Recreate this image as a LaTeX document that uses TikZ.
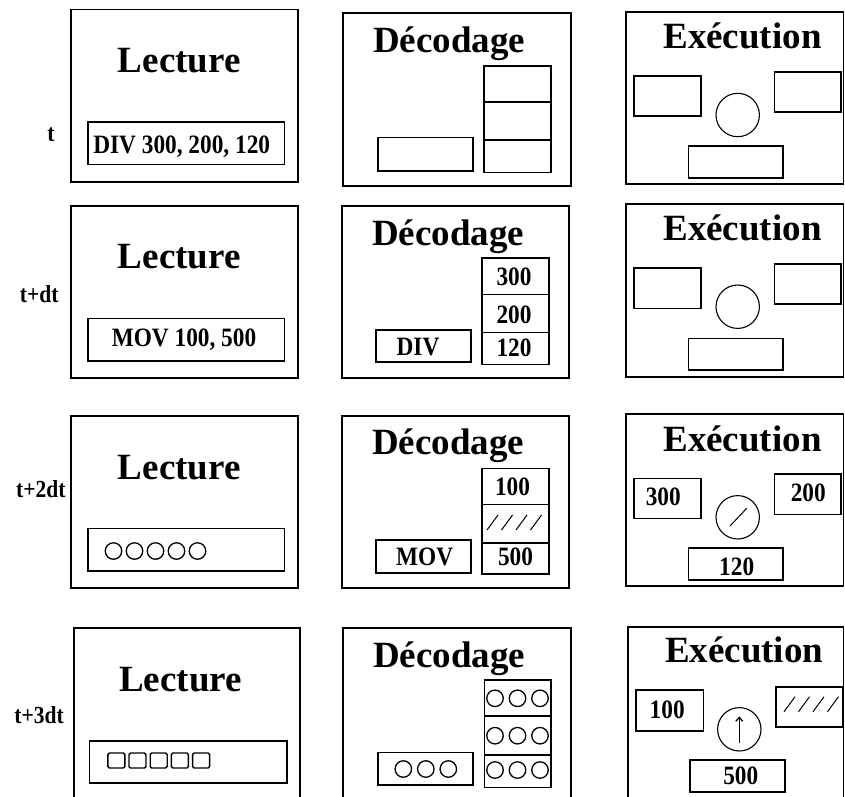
\documentclass[tikz,border=0pt]{standalone}
\usepackage{fontspec}
\usepackage{graphicx}
\setmainfont{Liberation Serif}
\usetikzlibrary{arrows.meta}
\newcommand\mytitlefont{\fontsize{37}{40}\selectfont\bfseries}
\newcommand\myvalfont{\fontsize{26.5}{28}\selectfont\bfseries}
\newcommand\mylblfont{\fontsize{24.5}{26}\selectfont\bfseries}
\newcommand\V[1]{\scalebox{0.88}[1]{#1}}
\tikzset{
  frame/.style={draw, line width=1.8pt},
  reg/.style={draw, line width=1.6pt},
  title/.style={anchor=base, inner sep=0pt, font=\mytitlefont},
  val/.style={anchor=base, inner sep=0pt, font=\myvalfont},
  lbl/.style={anchor=base, inner sep=0pt, font=\mylblfont},
  alu/.style={draw, circle, line width=1.1pt, minimum size=43.4pt, inner sep=0pt},
  dot/.style={draw, circle, line width=1.3pt, minimum size=16.5pt, inner sep=0pt},
  sq/.style={draw, line width=1.4pt, rounded corners=1.5pt},
  hatch/.style={line width=1pt}
}
\begin{document}
\begin{tikzpicture}[x=1pt,y=-1pt]
\useasboundingbox (0,0) rectangle (845,796);

% ---------------- row labels
\node[lbl] (l1) at (51,141.7) {\V{t}};
\node[lbl] (l2) at (39.2,302.3) {\V{t+dt}};
\node[lbl] (l3) at (40.8,497.3) {\V{t+2dt}};
\node[lbl] (l4) at (39.2,723.3) {\V{t+3dt}};

% ================= ROW 1 =================
\draw[frame] (71,9.5) rectangle (298.3,181.7);
\node[title] (lec1) at (179.2,72.7) {Lecture};
\draw[reg] (87.7,121.7) rectangle (284.3,164.3);
\node[val] (ins1) at (181.7,153.3) {\V{DIV 300, 200, 120}};

\draw[frame] (343.3,13.3) rectangle (570.7,186);
\node[title] (dec1) at (449.2,52.7) {Décodage};
\draw[reg] (484,65.7) rectangle (550.7,101.7);
\draw[reg] (484,101.7) rectangle (550.7,140);
\draw[reg] (484,140) rectangle (550.7,172.3);
\draw[reg] (377.7,137.3) rectangle (472.7,170.7);

\draw[frame] (626,11.7) rectangle (843.5,184);
\node[title] (exe1) at (742.5,48.3) {Exécution};
\draw[reg] (634,75.7) rectangle (701,116);
\draw[reg] (774.3,71.7) rectangle (841,112);
\draw[reg] (688.3,145.7) rectangle (782.7,177.7);
\node[alu] (alu1) at (737.7,115) {};

% ================= ROW 2 =================
\draw[frame] (71,206) rectangle (298.3,377.7);
\node[title] (lec2) at (179.2,268.3) {Lecture};
\draw[reg] (87.7,318.3) rectangle (284.3,360.7);
\node[val] (ins2) at (184,346.7) {\V{MOV 100, 500}};

\draw[frame] (341.7,206) rectangle (568.7,378.3);
\node[title] (dec2) at (448.3,245) {Décodage};
\draw[reg] (481.7,257.7) rectangle (548.7,294.3);
\draw[reg] (481.7,294.3) rectangle (548.7,332.3);
\draw[reg] (481.7,332.3) rectangle (548.7,364.3);
\node[val] (r21) at (514,285) {\V{300}};
\node[val] (r22) at (514,323.3) {\V{200}};
\node[val] (r23) at (514,356.7) {\V{120}};
\draw[reg] (376,330) rectangle (470.7,361.7);
\node[val] (op2) at (418,355) {\V{DIV}};

\draw[frame] (626,204.3) rectangle (843.5,376.7);
\node[title] (exe2) at (742.5,240) {Exécution};
\draw[reg] (634,267.7) rectangle (701,308.3);
\draw[reg] (774.3,264) rectangle (841,304);
\draw[reg] (688.3,338.3) rectangle (782.7,370);
\node[alu] (alu2) at (737.7,306.7) {};

% ================= ROW 3 =================
\draw[frame] (71,416) rectangle (298.3,588.3);
\node[title] (lec3) at (179.2,479.3) {Lecture};
\draw[reg] (87.7,528.3) rectangle (284.3,570.7);
\foreach \i in {0,...,4} {
  \node[dot] (c3\i) at (113.5+21*\i,551) {};
}

\draw[frame] (341.7,415.7) rectangle (568.7,588.3);
\node[title] (dec3) at (448.3,454.3) {Décodage};
\draw[reg] (481.7,468.3) rectangle (548.7,504.3);
\draw[reg] (481.7,504.3) rectangle (548.7,542.7);
\draw[reg] (481.7,542.7) rectangle (548.7,574);
\node[val] (r31) at (512.5,495) {\V{100}};
\foreach \i in {0,...,3} {
  \draw[hatch] (487+14.5*\i,530) -- (498+14.5*\i,515);
}
\node[val] (r33) at (515.5,565) {\V{500}};
\draw[reg] (376,540) rectangle (470.7,572.7);
\node[val] (op3) at (424.7,565.7) {\V{MOV}};

\draw[frame] (626,414) rectangle (843.5,586);
\node[title] (exe3) at (742.5,451) {Exécution};
\draw[reg] (634,478.3) rectangle (701,518.3);
\node[val] (a3) at (663.3,505) {\V{300}};
\draw[reg] (774.3,474) rectangle (841,514.3);
\node[val] (b3) at (808.3,501.7) {\V{200}};
\draw[reg] (688.3,547.7) rectangle (782.7,580);
\node[val] (o3) at (736.7,575) {\V{120}};
\node[alu] (alu3) at (737.7,517.3) {};
\draw[hatch] ([xshift=-7.7pt,yshift=-8.7pt]alu3.center) -- ([xshift=9pt,yshift=9pt]alu3.center);

% ================= ROW 4 =================
\draw[frame] (74,797) -- (74,628.3) -- (300,628.3) -- (300,797);
\node[title] (lec4) at (180.5,691) {Lecture};
\draw[reg] (89.3,740.7) rectangle (286.7,782.7);
\foreach \i in {0,...,4} {
  \draw[sq] (107.8+21.2*\i,753) rectangle (124.8+21.2*\i,768);
}

\draw[frame] (343.3,797) -- (343.3,628.3) -- (570.7,628.3) -- (570.7,797);
\node[title] (dec4) at (449.2,667.7) {Décodage};
\draw[reg] (484.3,680) rectangle (550.7,716);
\draw[reg] (484.3,716) rectangle (550.7,755);
\draw[reg] (484.3,755) rectangle (550.7,787.3);
\foreach \y in {698.3,735.7,770} {
  \foreach \i in {0,1,2} {
    \node[dot] at (495+22.5*\i,\y) {};
  }
}
\draw[reg] (377.7,752.3) rectangle (472.7,785);
\foreach \i in {0,1,2} {
  \node[dot] (c4\i) at (403.3+22.5*\i,769) {};
}

\draw[frame] (627.7,797) -- (627.7,626.7) -- (843.5,626.7) -- (843.5,797);
\node[title] (exe4) at (744.2,662.7) {Exécution};
\draw[reg] (635.7,690) rectangle (703.3,731);
\node[val] (a4) at (667.2,718.3) {\V{100}};
\draw[reg] (776,686.7) rectangle (842.7,726.7);
\foreach \i in {0,...,3} {
  \draw[hatch] (784+14.5*\i,711.7) -- (795+14.5*\i,696.7);
}
\draw[reg] (690,760) rectangle (785,791.7);
\node[val] (o4) at (740.8,784) {\V{500}};
\node[alu] (alu4) at (739.3,729.3) {};
\draw[line width=1.3pt,-{Straight Barb[length=4pt,width=7pt]}] ([yshift=-14pt]alu4.center) -- ([yshift=13pt]alu4.center);
\end{tikzpicture}
\end{document}
